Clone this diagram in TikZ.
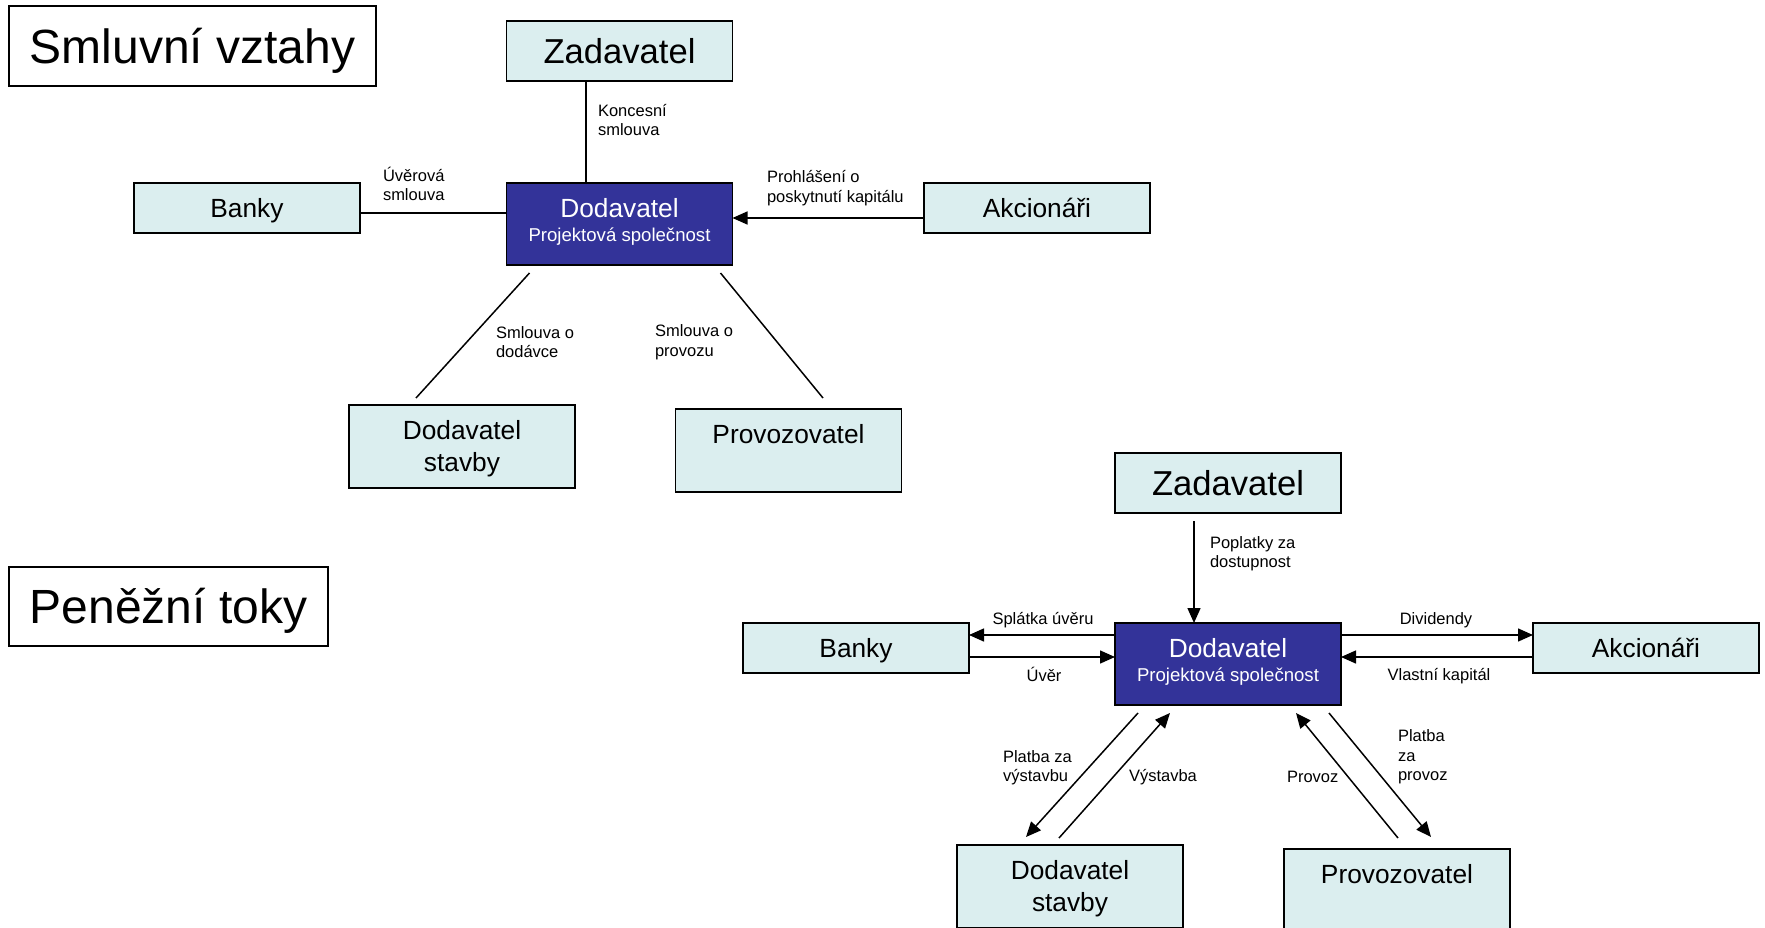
\documentclass[tikz,border=0pt]{standalone}
\usepackage{fontspec}
\setmainfont{Liberation Sans}
\usetikzlibrary{arrows.meta,calc}
\definecolor{boxlight}{RGB}{219,238,239}
\definecolor{boxdark}{RGB}{51,51,153}
\begin{document}
\begin{tikzpicture}[x=1pt,y=-1pt,
  box/.style={draw=black, line width=1.8pt, fill=boxlight, minimum width=226pt, minimum height=50pt,
    inner sep=0pt, outer sep=0pt, align=center, font=\fontsize{26.3}{32}\selectfont},
  onebox/.style={box, text depth=0pt},
  tallbox/.style={box, minimum height=83pt, text depth=1pt},
  zadbox/.style={box, minimum height=60pt, font=\fontsize{34.6}{40}\selectfont},
  darkbox/.style={draw=black, line width=1.8pt, fill=boxdark, text=white, minimum width=226pt, minimum height=82pt,
    inner sep=0pt, outer sep=0pt, align=center, text depth=8pt, font=\fontsize{18.6}{24}\selectfont},
  titlebox/.style={draw=black, line width=1.8pt, fill=white, inner sep=0pt, outer sep=0pt,
    text height=34.4pt, text depth=0pt, font=\fontsize{48}{56}\selectfont},
  lbl/.style={inner sep=0pt, outer sep=0pt, align=left, font=\fontsize{16.5}{19.5}\selectfont},
  clbl/.style={lbl, align=center},
  conn/.style={line width=1.5pt},
  arr/.style={conn, -{Triangle[length=15pt,width=13pt]}}
]
\useasboundingbox (0,0) rectangle (1765,928);

% ---------- Smluvni vztahy ----------
\node[titlebox, minimum width=367pt, minimum height=80pt] (t1) at (192.5,46) {Smluvní vztahy};
\node[zadbox] (zad1) at (619.5,51) {Zadavatel};
\node[darkbox] (dod1) at (619.5,224) {{\fontsize{26.3}{26}\selectfont Dodavatel}\\Projektová společnost};
\node[onebox] (ban1) at (247,208) {Banky};
\node[onebox] (akc1) at (1037,208) {Akcionáři};
\node[tallbox] (ds1) at (462,446.5) {Dodavatel\\stavby};
\node[tallbox] (pr1) at (788.5,450.5) {Provozovatel\\\vphantom{stavby}};

\draw[conn] ($(zad1.south)+(-33.5,0)$) -- ($(dod1.north)+(-33.5,0)$);
\draw[conn] ($(ban1.east)+(0,5)$) -- ($(dod1.west)+(0,-11)$);
\draw[arr] ($(akc1.west)+(0,10)$) -- ($(dod1.east)+(0,-6)$);
\draw[conn] ($(dod1.south west)+(23,8)$) -- ($(ds1.north)+(-46,-7)$);
\draw[conn] ($(dod1.south east)+(-12,8)$) -- ($(pr1.north)+(34.5,-11)$);

\node[lbl, anchor=west] (l1) at (598,120) {Koncesní\\smlouva};
\node[lbl, anchor=west] (l2) at (383,184) {Úvěrová\\smlouva};
\node[lbl, anchor=west] (l3) at (767,188) {Prohlášení o\\poskytnutí kapitálu};
\node[lbl, anchor=west] (l4) at (496,342) {Smlouva o\\dodávce};
\node[lbl, anchor=west] (l5) at (655,342) {Smlouva o\\provozu};

% ---------- Penezni toky ----------
\node[titlebox, minimum width=319pt, minimum height=79pt] (t2) at (168.5,606.5) {Peněžní toky};
\node[zadbox] (zad2) at (1228,483) {Zadavatel};
\node[darkbox] (dod2) at (1228,664) {{\fontsize{26.3}{26}\selectfont Dodavatel}\\Projektová společnost};
\node[onebox] (ban2) at (856,648) {Banky};
\node[onebox] (akc2) at (1646,648) {Akcionáři};
\node[tallbox] (ds2) at (1070,886.5) {Dodavatel\\stavby};
\node[tallbox] (pr2) at (1397,890.5) {Provozovatel\\\vphantom{stavby}};

\draw[arr] ($(zad2.south)+(-34,8)$) -- ($(dod2.north)+(-34,0)$);
\draw[arr] ($(dod2.west)+(0,-29)$) -- ($(ban2.east)+(0,-13)$);
\draw[arr] ($(ban2.east)+(0,9)$) -- ($(dod2.west)+(0,-7)$);
\draw[arr] ($(dod2.east)+(0,-29)$) -- ($(akc2.west)+(0,-13)$);
\draw[arr] ($(akc2.west)+(0,9)$) -- ($(dod2.east)+(0,-7)$);
\draw[arr] ($(dod2.south west)+(23,8)$) -- ($(ds2.north)+(-44,-8)$);
\draw[arr] ($(ds2.north)+(-11,-7)$) -- ($(dod2.south west)+(55,8)$);
\draw[arr] ($(pr2.north)+(1,-11)$) -- ($(dod2.south east)+(-45,8)$);
\draw[arr] ($(dod2.south east)+(-12,8)$) -- ($(pr2.north)+(34,-12)$);

\node[lbl, anchor=west] (m1) at (1210,553.5) {Poplatky za\\dostupnost};
\node[clbl] (m2) at (1043,620) {Splátka úvěru};
\node[clbl] (m3) at (1044,674) {Úvěr};
\node[clbl] (m4) at (1436,620) {Dividendy};
\node[clbl] (m5) at (1439,676) {Vlastní kapitál};
\node[lbl, anchor=west] (m6) at (1003,767.5) {Platba za\\výstavbu};
\node[lbl, anchor=west] (m7) at (1129,777) {Výstavba};
\node[lbl, anchor=west] (m8) at (1287,777) {Provoz};
\node[lbl, anchor=west] (m9) at (1398,757) {Platba\\za\\provoz};
\end{tikzpicture}
\end{document}
